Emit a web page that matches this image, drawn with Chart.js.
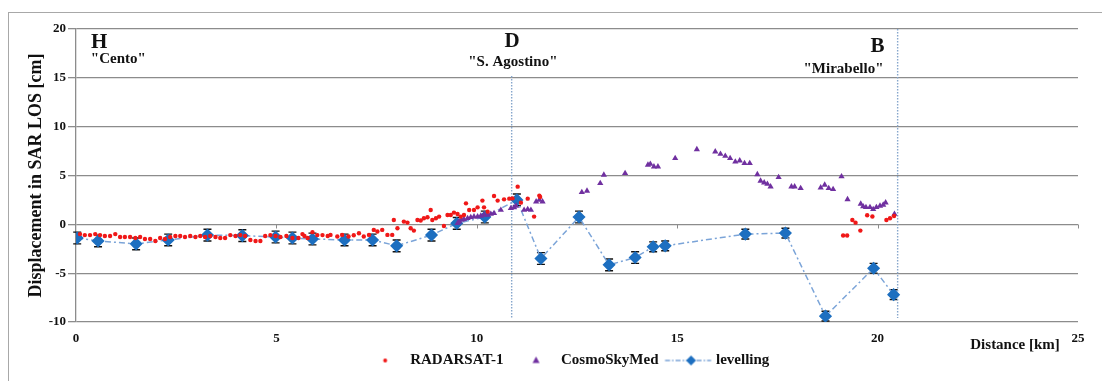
<!DOCTYPE html>
<html>
<head>
<meta charset="utf-8">
<script src="https://cdn.jsdelivr.net/npm/chart.js@4.4.1/dist/chart.umd.min.js"></script>
<style>
  html, body { margin: 0; padding: 0; background: #fff; overflow: hidden; }
  #wrap { position: relative; width: 1102px; height: 381px; }
</style>
</head>
<body>
<div id="wrap"><canvas id="chart"></canvas></div>
<script>
// --- data (distance in km, displacement in cm) ---
const radarsatX = [0.10,0.22,0.35,0.48,0.60,0.72,0.85,0.98,1.10,1.22,1.35,1.48,1.60,1.72,1.85,1.98,
  2.10,2.22,2.35,2.48,2.60,2.72,2.85,2.98,3.10,3.22,3.35,3.48,3.60,3.72,3.85,3.98,
  4.10,4.22,4.35,4.48,4.60,4.72,4.85,4.98,5.10,5.25,5.40,5.55,5.65,5.70,5.78,5.90,6.02,6.15,6.28,
  6.35,6.52,6.64,6.80,6.93,7.06,7.18,7.31,7.43,7.52,7.64,7.77,7.89,7.93,8.02,8.18,8.27,8.35,8.43,8.52,
  8.60,8.68,8.77,8.85,8.89,8.98,9.06,9.18,9.27,9.35,9.43,9.52,9.60,9.68,9.73,9.81,9.93,10.02,10.14,10.18,
  10.27,10.43,10.52,10.68,10.81,10.89,11.02,11.10,11.27,11.43,11.56,11.58,
  19.14,19.24,19.37,19.45,19.57,19.74,19.87,20.22,20.31,20.41];
const radarsatY = [-1.0,-1.1,-1.1,-1.0,-1.1,-1.2,-1.2,-1.0,-1.3,-1.3,-1.3,-1.4,-1.3,-1.5,-1.5,-1.7,
  -1.4,-1.5,-1.3,-1.2,-1.2,-1.3,-1.2,-1.3,-1.2,-1.3,-1.2,-1.3,-1.4,-1.4,-1.1,-1.2,
  -1.1,-1.2,-1.6,-1.7,-1.7,-1.2,-1.1,-1.2,-1.3,-1.2,-1.4,-1.4,-1.0,-1.2,-1.4,-0.8,-1.1,-1.1,-1.2,
  -1.08,-1.25,-1.08,-1.25,-1.12,-0.91,-1.25,-1.08,-0.57,-0.74,-0.57,-1.08,-1.08,0.45,-0.4,0.28,0.18,-0.4,-0.64,0.45,
  0.4,0.62,0.72,1.47,0.45,0.62,0.79,-0.17,0.96,0.96,1.2,1.06,0.79,0.96,2.15,1.47,1.47,1.74,2.43,1.74,
  1.3,2.9,2.43,2.56,2.63,2.66,3.86,2.22,2.63,0.79,2.94,2.8,
  -1.15,-1.15,0.45,0.17,-0.64,0.93,0.8,0.45,0.62,0.86];

const cosmoX = [9.52,9.56,9.62,9.68,9.77,9.85,9.93,10.02,10.10,10.18,10.27,10.35,10.43,10.60,10.85,10.93,10.98,
  11.18,11.27,11.35,11.48,11.56,11.64,
  12.62,12.75,13.08,13.17,13.70,14.27,14.33,14.42,14.52,14.95,15.49,15.95,16.08,16.20,16.32,16.45,16.56,16.68,16.81,
  17.00,17.08,17.17,17.25,17.33,17.53,17.85,17.93,18.08,18.58,18.68,18.78,18.89,19.10,19.25,
  19.58,19.64,19.71,19.81,19.89,19.97,20.06,20.14,20.20,20.42];
const cosmoY = [0.11,0.28,0.45,0.52,0.62,0.72,0.79,0.79,0.86,0.96,0.96,1.06,1.13,1.47,1.64,1.74,1.88,
  1.47,1.54,1.47,2.33,2.5,2.33,
  3.28,3.42,4.2,5.06,5.23,6.08,6.18,5.91,5.91,6.76,7.68,7.44,7.2,6.99,6.76,6.41,6.52,6.25,6.25,
  5.12,4.44,4.27,4.13,3.86,4.82,3.86,3.86,3.69,3.76,4.03,3.69,3.59,4.89,2.56,
  2.09,1.82,1.75,1.75,1.54,1.75,1.88,1.99,2.22,1.06];

const levelX = [0.03,0.55,1.5,2.3,3.28,4.15,4.98,5.4,5.9,6.7,7.4,8.0,8.87,9.5,10.2,11.0,11.6,12.55,
  13.3,13.95,14.4,14.7,16.7,17.7,18.7,19.9,20.4];
const levelY = [-1.4,-1.7,-2.0,-1.6,-1.1,-1.15,-1.3,-1.4,-1.5,-1.6,-1.6,-2.2,-1.1,0.1,0.75,2.5,-3.5,0.75,
  -4.15,-3.4,-2.3,-2.2,-1.0,-0.9,-9.4,-4.5,-7.2];
const levelErr = [0.6,0.6,0.6,0.6,0.6,0.6,0.6,0.6,0.6,0.6,0.6,0.6,0.6,0.6,0.6,0.6,0.6,0.6,
  0.6,0.6,0.5,0.5,0.5,0.5,0.5,0.5,0.5];

const xTicks = [0, 5, 10, 15, 20, 25];
const yTicks = [-10, -5, 0, 5, 10, 15, 20];

// section markers: D (S. Agostino) and B (Mirabello)
const sectionX = [10.87, 20.5];
const sectionTop = [15.2, 20];
const sectionBottom = -9.6;

// place labels, positioned in data units
const places = [
  { text: 'H', x: 0.58, y: 18.6, size: 21, align: 'center' },
  { text: '"Cento"', x: 0.37, y: 16.9, size: 15, align: 'left' },
  { text: 'D', x: 10.88, y: 18.75, size: 21, align: 'center' },
  { text: '"S. Agostino"', x: 10.9, y: 16.6, size: 15, align: 'center' },
  { text: 'B', x: 20.0, y: 18.15, size: 21, align: 'center' },
  { text: '"Mirabello"', x: 19.15, y: 15.9, size: 15, align: 'center' },
  { text: 'Distance [km]', x: 23.43, y: -12.35, size: 15, align: 'center' }
];

const FONT = "'Liberation Serif', 'Times New Roman', serif";
const RED = '#f01818';
const PURPLE = '#7030a0';
const BLUE = '#1d6fc0';
const DASHBLUE = '#7ba4d8';
const GRID = '#8c8c8c';
const LEGEND_SHIFT = 13; // legend sits a little left of the plot centre

function pts(xs, ys) {
  return xs.map((x, i) => ({ x: x, y: ys[i] }));
}

// small canvases used as legend symbols; the symbol sits a bit right of centre
// so that the gap to the text matches the original legend
function icon(w, draw) {
  const c = document.createElement('canvas');
  c.width = w; c.height = 16;
  draw(c.getContext('2d'), w / 2 + 4.5, 8);
  return c;
}
const redIcon = icon(44, (g, cx, cy) => {
  g.fillStyle = RED; g.beginPath(); g.arc(cx, cy, 2, 0, Math.PI * 2); g.fill();
});
const purpleIcon = icon(44, (g, cx, cy) => {
  g.fillStyle = PURPLE; g.beginPath();
  g.moveTo(cx, cy - 4); g.lineTo(cx + 3.5, cy + 2.5); g.lineTo(cx - 3.5, cy + 2.5); g.closePath(); g.fill();
});
const levelIcon = icon(60, (g, cx, cy) => {
  g.strokeStyle = DASHBLUE; g.lineWidth = 1.5; g.setLineDash([5, 2, 1.5, 2]);
  g.beginPath(); g.moveTo(cx - 26, cy); g.lineTo(cx + 20, cy); g.stroke();
  g.setLineDash([]);
  g.fillStyle = BLUE; g.beginPath();
  g.moveTo(cx, cy - 5); g.lineTo(cx + 5, cy); g.lineTo(cx, cy + 5); g.lineTo(cx - 5, cy); g.closePath(); g.fill();
});
const legendIcons = [redIcon, purpleIcon, levelIcon];

const decor = {
  id: 'decor',
  afterLayout(chart) {
    chart.legend.left -= LEGEND_SHIFT;
    chart.legend.right -= LEGEND_SHIFT;
  },
  beforeDraw(chart) {
    const c = chart.ctx;
    c.save();
    c.strokeStyle = '#a8a8a8';
    c.lineWidth = 1;
    c.strokeRect(8.5, 12.5, chart.width + 20, chart.height + 20);
    c.restore();
  },
  beforeDatasetsDraw(chart) {
    const xs = chart.scales.x, ys = chart.scales.y, c = chart.ctx;
    c.save();
    // little ticks hanging under the zero line
    c.strokeStyle = GRID; c.lineWidth = 1;
    const y0 = Math.round(ys.getPixelForValue(0)) + 0.5;
    xTicks.slice(1).forEach(v => {
      const px = Math.round(xs.getPixelForValue(v)) + 0.5;
      c.beginPath(); c.moveTo(px, y0); c.lineTo(px, y0 + 4); c.stroke();
    });
    // error bars of the levelling
    c.strokeStyle = '#111'; c.lineWidth = 1.4;
    levelX.forEach((v, i) => {
      const px = xs.getPixelForValue(v);
      const top = ys.getPixelForValue(levelY[i] + levelErr[i]);
      const bot = ys.getPixelForValue(levelY[i] - levelErr[i]);
      c.beginPath();
      c.moveTo(px, top); c.lineTo(px, bot);
      c.moveTo(px - 4, top); c.lineTo(px + 4, top);
      c.moveTo(px - 4, bot); c.lineTo(px + 4, bot);
      c.stroke();
    });
    c.restore();
  },
  afterDraw(chart) {
    const xs = chart.scales.x, ys = chart.scales.y, c = chart.ctx;
    c.save();
    c.fillStyle = '#111';
    c.textBaseline = 'middle';
    places.forEach(p => {
      c.font = 'bold ' + p.size + 'px ' + FONT;
      c.textAlign = p.align;
      c.fillText(p.text, xs.getPixelForValue(p.x), ys.getPixelForValue(p.y));
    });
    c.restore();
  }
};

const datasets = [
  {
    label: 'RADARSAT-1',
    data: pts(radarsatX, radarsatY),
    pointStyle: 'circle',
    pointRadius: 2.2,
    backgroundColor: RED,
    borderColor: RED,
    borderWidth: 0,
    showLine: false
  },
  {
    label: 'CosmoSkyMed',
    data: pts(cosmoX, cosmoY),
    pointStyle: 'triangle',
    pointRadius: 3.6,
    backgroundColor: PURPLE,
    borderColor: PURPLE,
    borderWidth: 0,
    showLine: false
  },
  {
    label: 'levelling',
    data: pts(levelX, levelY),
    pointStyle: 'rectRot',
    pointRadius: 5.5,
    backgroundColor: BLUE,
    pointBorderColor: BLUE,
    borderColor: DASHBLUE,
    borderWidth: 1.5,
    borderDash: [6, 3, 2, 3],
    showLine: true,
    tension: 0
  }
];
sectionX.forEach((x, i) => {
  datasets.push({
    label: 'section',
    data: [{ x: x, y: sectionTop[i] }, { x: x, y: sectionBottom }],
    showLine: true,
    pointRadius: 0,
    borderColor: '#86a6cc',
    borderWidth: 1.4,
    borderDash: [1.5, 1.5]
  });
});

new Chart(document.getElementById('chart'), {
  type: 'scatter',
  data: { datasets: datasets },
  options: {
    responsive: true,
    maintainAspectRatio: false,
    animation: false,
    layout: { padding: { left: 0, right: 24, top: 29, bottom: 3 } },
    scales: {
      x: {
        type: 'linear',
        min: 0, max: 25,
        afterBuildTicks: (s) => { s.ticks = xTicks.map(v => ({ value: v })); },
        afterFit: (s) => { s.height = 25; },
        grid: { display: false, drawTicks: false },
        border: { display: false },
        ticks: { padding: 9, color: '#111', font: { family: FONT, size: 13, weight: 'bold' } }
      },
      y: {
        min: -10, max: 20,
        afterBuildTicks: (s) => { s.ticks = yTicks.map(v => ({ value: v })); },
        afterFit: (s) => { s.width = 76; },
        grid: { color: GRID, lineWidth: 1.3, tickLength: 8 },
        border: { display: true, color: GRID, width: 1.3 },
        ticks: { padding: 2, color: '#111', font: { family: FONT, size: 13, weight: 'bold' } },
        title: {
          display: true,
          text: 'Displacement in SAR LOS [cm]',
          color: '#111',
          font: { family: FONT, size: 18, weight: 'bold' },
          padding: { top: 26, bottom: 0 }
        }
      }
    },
    plugins: {
      tooltip: { enabled: false },
      legend: {
        position: 'bottom',
        fullSize: false,
        labels: {
          usePointStyle: true,
          pointStyleWidth: 44,
          padding: 6,
          color: '#111',
          font: { family: FONT, size: 15, weight: 'bold' },
          filter: (item) => item.datasetIndex < 3,
          generateLabels: (chart) => {
            const items = Chart.defaults.plugins.legend.labels.generateLabels(chart);
            items.forEach(it => {
              if (it.datasetIndex < 3) it.pointStyle = legendIcons[it.datasetIndex];
            });
            return items;
          }
        }
      }
    }
  },
  plugins: [decor]
});
</script>
</body>
</html>
